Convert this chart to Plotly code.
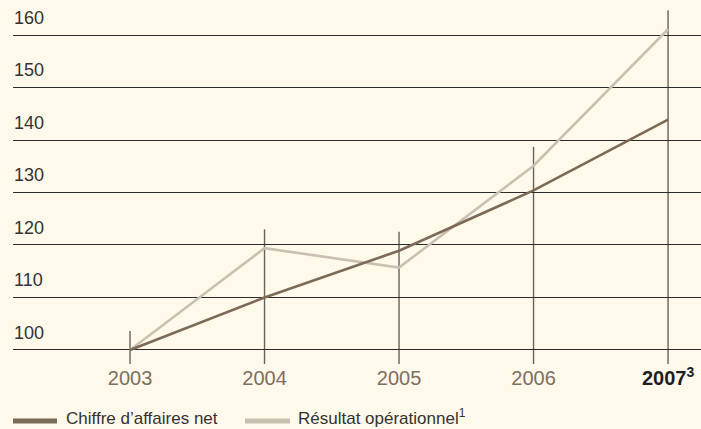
import plotly.graph_objects as go

years = [2003, 2004, 2005, 2006, 2007]
year_labels = ["2003", "2004", "2005", "2006", "<span style='color:#1e1e1e'><b>2007<sup>3</sup></b></span>"]
chiffre_affaires = [100, 110, 118.9, 130.4, 143.9]
resultat_op = [100, 119.4, 115.7, 135.1, 161.1]
y_ticks = [100, 110, 120, 130, 140, 150, 160]
series_names = ["Chiffre d\u2019affaires net", "R\u00e9sultat op\u00e9rationnel<sup>1</sup>"]
series_colors = ["#7b6a55", "#c9c0b1"]

BG = "#fef9ea"
W, H = 701, 429
ML, MR, MT, MB = 13, 0, 0, 65
y_min, y_max = 97.33, 166.67
x_min, x_max = 2002.13, 2007.245

fig = go.Figure()

# vertical year markers, from axis bottom up to a bit above highest value
for yr, a, b in zip(years, chiffre_affaires, resultat_op):
    fig.add_shape(type="line", xref="x", yref="y", x0=yr, x1=yr,
                  y0=y_min, y1=max(a, b) + 3.6,
                  line=dict(color="#67625b", width=1.4), layer="below")

for vals, name, col in zip([resultat_op, chiffre_affaires], series_names[::-1], series_colors[::-1]):
    fig.add_trace(go.Scatter(x=years, y=vals, mode="lines", name=name,
                             line=dict(color=col, width=2.6), showlegend=False))

# custom legend
pw = W - ML - MR
ph = H - MT - MB
def px_to_paper_x(px):
    return (px - ML) / pw
def py_to_paper_y(py):
    return (H - MB - py) / ph

legend_items = [(13, 57, 65), (245, 290, 297)]
for (x0, x1, xt), name, col in zip(legend_items, series_names, series_colors):
    fig.add_shape(type="line", xref="paper", yref="paper",
                  x0=px_to_paper_x(x0), x1=px_to_paper_x(x1),
                  y0=py_to_paper_y(421), y1=py_to_paper_y(421),
                  line=dict(color=col, width=5))
    fig.add_annotation(xref="paper", yref="paper", x=px_to_paper_x(xt), y=py_to_paper_y(429),
                       text=name, showarrow=False, xanchor="left", yanchor="bottom",
                       borderpad=0,
                       font=dict(family="Liberation Sans, Arial", size=17, color="#333333"))

fig.update_layout(
    width=W, height=H,
    margin=dict(l=ML, r=MR, t=MT, b=MB),
    paper_bgcolor=BG, plot_bgcolor=BG,
    showlegend=False,
)
fig.update_xaxes(range=[x_min, x_max], tickvals=years, ticktext=year_labels,
                 showgrid=False, zeroline=False, showline=False, ticks="",
                 tickfont=dict(family="Liberation Sans, Arial", size=20, color="#7d6e60"))
fig.update_yaxes(range=[y_min, y_max], tickvals=y_ticks,
                 ticklabelposition="inside top", ticklabelshift=-5, ticklabelstandoff=-2,
                 showgrid=True,
                 gridcolor="#2b2b2b", gridwidth=1, zeroline=False, showline=False,
                 tickfont=dict(family="Liberation Sans, Arial", size=18, color="#333333"))

fig.write_html("out.html")
